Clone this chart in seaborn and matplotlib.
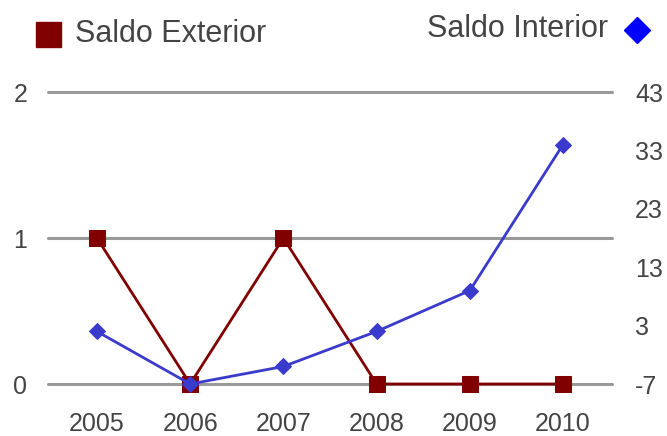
import matplotlib
matplotlib.use("Agg")
import matplotlib.pyplot as plt
from matplotlib.lines import Line2D
import seaborn as sns
import pandas as pd

years = [2005, 2006, 2007, 2008, 2009, 2010]
saldo_exterior = [1, 0, 1, 0, 0, 0]
saldo_interior = [2, -7, -4, 2, 9, 34]
left_ticks = [0, 1, 2]
right_ticks = [-7, 3, 13, 23, 33, 43]

df = pd.DataFrame({"year": years, "ext": saldo_exterior, "int": saldo_interior})

sns.set_style("white")
plt.rcParams["font.family"] = ["Liberation Sans", "DejaVu Sans"]
plt.rcParams["axes.unicode_minus"] = False

fig = plt.figure(figsize=(6.67, 4.36), dpi=100)
ax = fig.add_axes([48 / 667, 1 - 384 / 436, (612 - 48) / 667, (384 - 92) / 436])
ax2 = ax.twinx()

text_color = "#444444"
ext_color = "#800000"
int_color = "#3a3acc"

# grid lines on left axis
for t in left_ticks:
    ax.axhline(t, color="#9a9a9a", lw=2.2, zorder=0, clip_on=False)

sns.lineplot(data=df, x="year", y="ext", ax=ax, color=ext_color, marker="s",
             markersize=11, markeredgecolor=ext_color, lw=2, zorder=3, clip_on=False)
sns.lineplot(data=df, x="year", y="int", ax=ax2, color=int_color, marker="D",
             markersize=8, markeredgecolor=int_color, lw=2, zorder=4, clip_on=False)

ax.set_xlim(2004.475, 2010.525)
ax.set_ylim(0, 2)
ax2.set_ylim(-7, 43)
ax.set_yticks(left_ticks)
ax2.set_yticks(right_ticks)
ax.set_xticks(years)
ax.set_xticklabels([str(y) for y in years])

for a in (ax, ax2):
    for s in a.spines.values():
        s.set_visible(False)
    a.set_xlabel("")
    a.set_ylabel("")
    a.tick_params(length=0, labelsize=18, labelcolor=text_color)

ax.tick_params(axis="y", pad=15)
ax.tick_params(axis="x", pad=20)
ax2.tick_params(axis="y", pad=16.5)
ax2.set_zorder(ax.get_zorder() + 1)
ax2.patch.set_visible(False)

# legend
fig.add_artist(Line2D([48 / 667], [1 - 34 / 436], marker="s", markersize=18,
                      color=ext_color, transform=fig.transFigure, linestyle="none"))
fig.text(75 / 667, 1 - 42 / 436, "Saldo Exterior", fontsize=22, color=text_color,
         va="baseline", ha="left")
fig.text(608 / 667, 1 - 37 / 436, "Saldo Interior", fontsize=22, color=text_color,
         va="baseline", ha="right")
fig.add_artist(Line2D([636.5 / 667], [1 - 30 / 436], marker="D", markersize=13,
                      color="#0000ff", transform=fig.transFigure, linestyle="none"))

fig.savefig("out.png", dpi=100, facecolor="white")
